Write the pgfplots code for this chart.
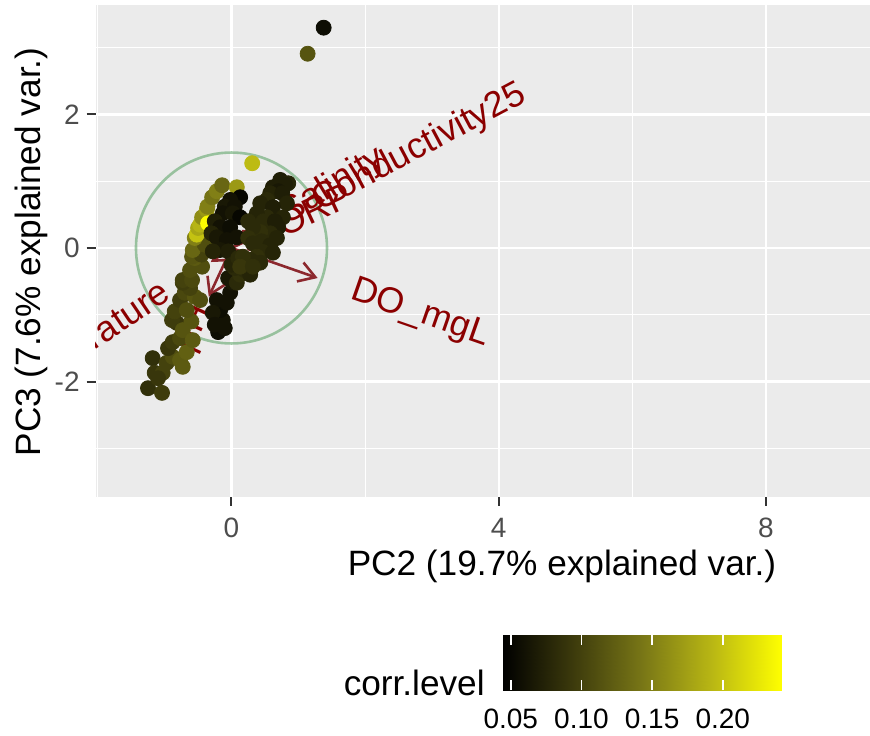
\documentclass[border=0pt]{standalone}
\usepackage{fontspec}
\setmainfont{Liberation Sans}
\usepackage{pgfplots}
\pgfplotsset{compat=1.18}
\usepackage{pgfplotstable}
\usetikzlibrary{arrows.meta}

\definecolor{panelbg}{RGB}{235,235,235}
\definecolor{tickcol}{RGB}{51,51,51}
\definecolor{ticktext}{RGB}{77,77,77}
\definecolor{arrowred}{RGB}{140,40,46}
\definecolor{labelred}{RGB}{139,0,0}
\definecolor{circgreen}{RGB}{85,160,95}

\newcommand\ttl{\fontsize{17.6}{20}\selectfont}
\newcommand\tkl{\fontsize{14}{16}\selectfont}
\newcommand\lbl{\fontsize{18}{20}\selectfont}

\pgfplotsset{
  corrmap/.style={
    colormap={blackyellow}{rgb255=(0,0,0) rgb255=(60,58,12) rgb255=(120,118,22) rgb255=(185,183,20) rgb255=(255,255,0)},
    point meta min=0.0443, point meta max=0.2417,
  },
}

% PC2, PC3 scores and corr.level
\pgfplotstableread{
x y c
-1.25 -2.10 0.085
-1.04 -2.17 0.095
-1.18 -1.65 0.085
-1.15 -1.87 0.090
-1.03 -1.87 0.100
-1.10 -1.95 0.090
-0.97 -1.72 0.100
-0.88 -1.63 0.110
-0.95 -1.50 0.090
-0.77 -1.68 0.120
-0.73 -1.78 0.120
-0.67 -1.56 0.125
-0.88 -1.41 0.095
-0.77 -1.35 0.105
-0.82 -1.12 0.090
-0.89 -1.08 0.095
-0.73 -1.23 0.115
-0.58 -1.38 0.120
-0.60 -1.10 0.115
-0.85 -0.95 0.100
-0.77 -0.78 0.095
-0.70 -0.67 0.105
-0.55 -0.73 0.115
-0.67 -0.93 0.110
-0.47 -0.78 0.110
-0.62 -0.60 0.100
-0.73 -0.52 0.095
-0.73 -0.48 0.100
-0.59 -0.48 0.105
-0.62 -0.33 0.110
-0.44 -0.28 0.110
-0.55 -0.15 0.120
-0.59 -0.13 0.115
-0.45 -0.10 0.100
-0.58 -0.03 0.130
-0.40 0.05 0.110
-0.55 0.15 0.150
-0.52 0.20 0.200
-0.50 0.30 0.180
-0.47 0.35 0.190
-0.44 0.46 0.160
-0.37 0.57 0.170
-0.36 0.62 0.150
-0.29 0.76 0.140
-0.22 0.85 0.150
-0.14 0.94 0.130
0.08 0.91 0.170
-0.35 0.37 0.240
0.13 0.76 0.050
-0.02 0.72 0.060
-0.10 0.62 0.065
0.05 0.62 0.060
-0.13 0.52 0.060
0.02 0.52 0.065
0.13 0.46 0.050
-0.25 0.40 0.070
-0.17 0.31 0.060
-0.02 0.31 0.055
-0.30 0.22 0.075
-0.22 0.16 0.065
-0.07 0.12 0.060
0.08 0.16 0.060
-0.17 -0.03 0.065
-0.05 -0.05 0.070
-0.28 -0.05 0.075
-0.20 -1.26 0.055
-0.13 -1.08 0.060
-0.17 -0.93 0.055
-0.07 -0.82 0.060
-0.02 -0.67 0.060
0.02 -0.52 0.065
-0.22 -0.78 0.060
-0.28 -0.97 0.065
-0.25 -1.15 0.060
-0.10 -1.20 0.060
0.05 -0.40 0.070
-0.05 -0.45 0.065
0.08 -0.52 0.080
0.13 -0.40 0.085
0.20 -0.33 0.080
0.28 -0.40 0.075
0.05 -0.30 0.080
0.17 -0.22 0.085
0.00 -0.25 0.075
0.10 -0.15 0.080
0.73 1.02 0.070
0.85 0.97 0.075
0.80 0.95 0.070
0.62 0.91 0.070
0.70 0.85 0.065
0.58 0.82 0.075
0.76 0.82 0.070
0.83 0.67 0.075
0.53 0.72 0.080
0.43 0.67 0.075
0.62 0.61 0.070
0.77 0.46 0.075
0.53 0.46 0.080
0.38 0.52 0.075
0.48 0.40 0.080
0.65 0.40 0.070
0.25 0.40 0.080
0.70 0.31 0.070
0.58 0.22 0.080
0.68 0.15 0.075
0.43 0.24 0.085
0.32 0.31 0.080
0.25 0.15 0.085
0.45 0.10 0.080
0.32 0.07 0.080
0.58 0.04 0.075
0.47 -0.06 0.080
0.62 -0.07 0.075
0.38 -0.13 0.085
0.28 -0.18 0.080
0.43 -0.22 0.080
0.17 -0.13 0.085
0.13 -0.28 0.090
0.32 -0.28 0.085
0.31 1.27 0.195
1.14 2.91 0.115
1.38 3.30 0.055
}\scores

% colour bar samples (corr.level along the bar)
\pgfplotstableread{
x y c
0.0443 0 0.0443
0.0937 0 0.0937
0.1430 0 0.1430
0.1924 0 0.1924
0.2417 0 0.2417
0.0443 1 0.0443
0.0937 1 0.0937
0.1430 1 0.1430
0.1924 1 0.1924
0.2417 1 0.2417
}\barcols

\begin{document}
\begin{tikzpicture}
\useasboundingbox (0,0) rectangle (435pt,367.5pt);
\begin{axis}[
  corrmap,
  at={(47.75pt,119pt)}, anchor=south west,
  width=387.25pt, height=246pt, scale only axis,
  xmin=-2.036, xmax=9.56, ymin=-3.73, ymax=3.64,
  axis background/.style={fill=panelbg},
  axis line style={draw=none},
  xtick={0,4,8}, xticklabels={0,4,8},
  ytick={-2,0,2}, yticklabels={-2,0,2},
  minor xtick={-2,2,6}, minor ytick={-3,-1,1,3},
  grid=both,
  major grid style={white, line width=1.1pt},
  minor grid style={white, line width=0.55pt},
  tick align=outside, tick pos=left,
  major tick length=4.4pt, minor tick length=0pt,
  tick style={tickcol, line width=1pt},
  ticklabel style={font=\tkl, text=ticktext},
  xticklabel style={anchor=base, inner sep=0pt, yshift=-15.6pt},
  yticklabel style={anchor=east, inner sep=0pt, xshift=-3.35pt},
]
\addplot[scatter, only marks, mark=*, mark size=3.75pt, point meta=explicit,
  scatter/use mapped color={draw=mapped color, fill=mapped color}]
  table[x=x, y=y, meta=c] {\scores};

% correlation circle
\draw[circgreen, draw opacity=0.55, line width=1.3pt] (axis cs:0,0) circle[radius=1.43];

% loading arrows
\begin{scope}[arrowred, line width=1.3pt, -{Straight Barb[length=8pt, width=10pt, line width=1.3pt]}]
\draw (axis cs:0,0) -- (axis cs:0.47,0.25);
\draw (axis cs:0,0) -- (axis cs:0.40,0.245);
\draw (axis cs:0,0) -- (axis cs:0.45,0.21);
\draw (axis cs:0,0) -- (axis cs:1.29,-0.45);
\draw (axis cs:0,0) -- (axis cs:-0.31,-0.21);
\draw (axis cs:0,0) -- (axis cs:-0.34,-0.73);
\end{scope}

% variable names
\node[labelred, font=\lbl, rotate=28, anchor=west, inner sep=0pt] at (axis cs:1.25,0.665) {Conductivity25};
\node[labelred, font=\lbl, rotate=31.5, anchor=west, inner sep=0pt] at (axis cs:0.77,0.47) {Salinity};
\node[labelred, font=\lbl, rotate=25, anchor=west, inner sep=0pt] at (axis cs:0.71,0.33) {ORP};
\node[labelred, font=\lbl, rotate=-19.2, anchor=west, inner sep=0pt] at (axis cs:1.80,-0.63) {DO\_mgL};
\node[labelred, font=\lbl, rotate=34.1, anchor=east, inner sep=0pt] at (axis cs:-0.95,-0.64) {Temperature};
\node[labelred, font=\lbl, rotate=65, anchor=east, inner sep=0pt] at (axis cs:-0.41,-0.89) {pH};
\end{axis}

% colour bar legend
\begin{axis}[
  corrmap,
  at={(251.35pt,22.5pt)}, anchor=south west,
  width=139.5pt, height=27.5pt, scale only axis,
  xmin=0.0443, xmax=0.2417, ymin=0, ymax=1,
  axis on top,
  axis line style={draw=none},
  xtick={0.05,0.10,0.15,0.20}, xticklabels={0.05,0.10,0.15,0.20},
  ytick=\empty,
  xtick align=inside, xtick pos=both, xticklabel pos=lower,
  major tick length=5pt,
  tick style={white, line width=0.8pt},
  xticklabel style={font=\tkl, text=black, anchor=base, inner sep=0pt, yshift=-19pt},
]
\addplot[surf, shader=interp, mesh/cols=5, point meta=explicit]
  table[x=x, y=y, meta=c] {\barcols};
\end{axis}

\node[font=\ttl, rotate=90, anchor=base] at (20pt,241.5pt) {PC3 (7.6\% explained var.)};
\node[font=\ttl, anchor=base] at (281pt,80pt) {PC2 (19.7\% explained var.)};
\node[font=\ttl, anchor=base east, inner sep=0pt] at (242.5pt,20pt) {corr.level};
\end{tikzpicture}
\end{document}
